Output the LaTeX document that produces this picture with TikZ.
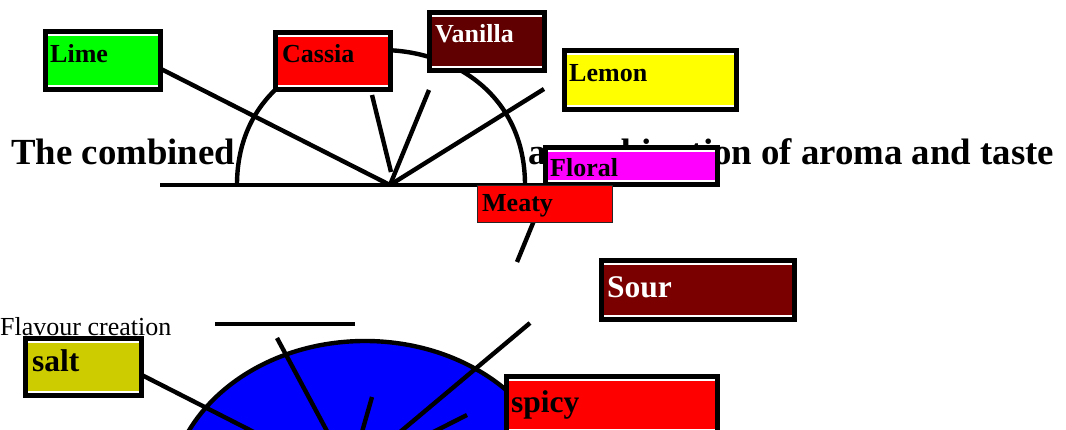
\documentclass[tikz,border=0pt]{standalone}
\usepackage{fontspec}
\setmainfont{Liberation Serif}
\usetikzlibrary{shapes.geometric}
\definecolor{limec}{RGB}{0,255,0}
\definecolor{cassiac}{RGB}{255,0,0}
\definecolor{vanillac}{RGB}{96,0,0}
\definecolor{lemonc}{RGB}{255,255,0}
\definecolor{floralc}{RGB}{255,0,255}
\definecolor{meatyc}{RGB}{255,0,0}
\definecolor{sourc}{RGB}{122,0,0}
\definecolor{saltc}{RGB}{204,204,0}
\definecolor{spicyc}{RGB}{255,0,0}
\definecolor{piec}{RGB}{0,0,255}
\begin{document}
\begin{tikzpicture}[x=1pt,y=-1pt,
  conn/.style={line width=4.4pt, draw=black},
  box/.style={draw=black, line width=5.4pt, rectangle, inner sep=0pt, outer sep=0pt,
    path picture={
      \draw[white, line width=1.4pt] ([yshift=-3.5pt]path picture bounding box.north west) -- ([yshift=-3.5pt,xshift=-3pt]path picture bounding box.north east);
      \draw[white, line width=1.4pt] ([yshift=3.5pt]path picture bounding box.south west) -- ([yshift=3.5pt,xshift=-3pt]path picture bounding box.south east);
    }},
  thinbox/.style={draw=black!85, line width=1.2pt, rectangle, inner sep=0pt, outer sep=0pt},
  lbl/.style={inner sep=0pt, anchor=base west, font=\fontsize{26}{30}\selectfont\bfseries},
  biglbl/.style={inner sep=0pt, anchor=base west, font=\fontsize{31.5}{36}\selectfont\bfseries},
  titletext/.style={inner sep=0pt, anchor=base west, font=\fontsize{36.8}{42}\selectfont\bfseries},
  plaintext/.style={inner sep=0pt, anchor=base west, font=\fontsize{26}{30}\selectfont}]
\path[use as bounding box] (0,0) rectangle (1066,430);
\clip (0,0) rectangle (1066,430);

% title and caption
\node[titletext] (t1) at (11,165) {The combined};
\node[titletext] (t2) at (528,165) {a combination of aroma and taste};
\node[plaintext] (cap) at (0,336) {Flavour creation};

% upper half-disc
\coordinate (tc) at (390,185);
\path[fill=white, draw=black, line width=4.4pt] (237,185) .. controls (237,5) and (525,5) .. (525,185);
\coordinate (bl1) at (160,185);
\coordinate (bl2) at (545,185);
\draw[conn] (bl1) -- (bl2);
\coordinate (limeend) at (150,63.4);
\coordinate (sa1) at (372,95);
\coordinate (sa2) at (391,172);
\coordinate (sb) at (429,90);
\coordinate (lemonend) at (544,89);
\draw[conn] (tc) -- (limeend);
\draw[conn] (sa1) -- (sa2);
\draw[conn] (tc) -- (sb);
\draw[conn] (tc) -- (lemonend);
\coordinate (m1) at (540,206);
\coordinate (m2) at (517,262);
\draw[conn] (m1) -- (m2);

% lower disc
\coordinate (bc) at (350,474);
\node[ellipse, draw=black, fill=piec, line width=4.4pt, minimum width=392pt, minimum height=320pt, inner sep=0pt] (pie) at (365,501) {};
\coordinate (bb1) at (215,324);
\coordinate (bb2) at (355,324);
\draw[conn] (bb1) -- (bb2);
\coordinate (saltend) at (130,369);
\coordinate (saltfar) at (350,481);
\coordinate (s2) at (277,338);
\coordinate (s3) at (372,397);
\coordinate (s4) at (467,415);
\coordinate (s5) at (530,323);
\draw[conn] (saltend) -- (saltfar);
\draw[conn] (s2) -- (bc);
\draw[conn] (s3) -- (bc);
\draw[conn] (s4) -- (bc);
\draw[conn] (s5) -- (bc);

% boxes
\node[box, fill=limec, minimum width=115pt, minimum height=58pt] (lime) at (103,60.5) {};
\node[lbl] (limet) at (50,63) {Lime};
\node[box, fill=cassiac, minimum width=115pt, minimum height=57pt] (cassia) at (333,61) {};
\node[lbl] (cassiat) at (282,63) {Cassia};
\node[box, fill=vanillac, minimum width=115pt, minimum height=58pt] (vanilla) at (487,41.5) {};
\node[lbl, text=white] (vanillat) at (435,43) {Vanilla};
\node[box, fill=lemonc, minimum width=172pt, minimum height=59pt] (lemon) at (650.5,80) {};
\node[lbl] (lemont) at (569,82) {Lemon};
\node[box, fill=floralc, minimum width=172pt, minimum height=37pt] (floral) at (631.5,166) {};
\node[lbl] (floralt) at (550,177) {Floral};
\node[thinbox, fill=meatyc, minimum width=135pt, minimum height=37pt] (meaty) at (545,204) {};
\node[lbl] (meatyt) at (482,212) {Meaty};
\node[box, fill=sourc, minimum width=193pt, minimum height=59pt] (sour) at (698,290) {};
\node[biglbl, text=white] (sourt) at (607,298) {Sour};
\node[box, fill=saltc, minimum width=116pt, minimum height=57pt] (salt) at (83.5,367) {};
\node[biglbl] (saltt) at (32,372) {salt};
\node[box, fill=spicyc, minimum width=211pt, minimum height=57pt] (spicy) at (612,405) {};
\node[biglbl] (spicyt) at (511,412) {spicy};
\end{tikzpicture}
\end{document}
